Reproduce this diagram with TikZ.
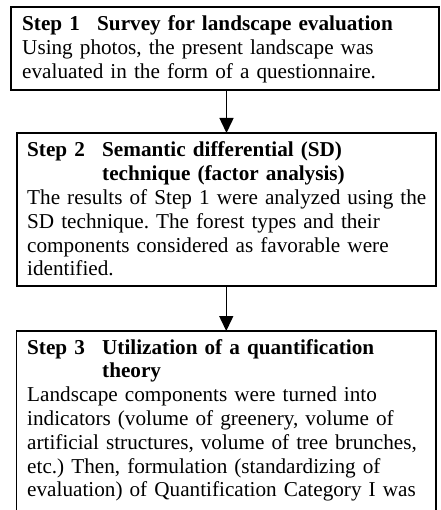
\documentclass[tikz,border=0pt]{standalone}
\usepackage{fontspec}
\setmainfont{Liberation Serif}
\usetikzlibrary{arrows.meta}
\frenchspacing
\newcommand\stephd[2]{\makebox[75pt][l]{\textbf{#1}}\textbf{#2}}
\newcommand\indnt[1]{\hspace*{75pt}\textbf{#1}}
\begin{document}
\begin{tikzpicture}[x=1pt,y=-1pt,
  box/.style={draw,line width=1.7pt,rectangle,anchor=north west,inner sep=0pt,outer sep=0pt},
  txt/.style={anchor=base west,inner sep=0pt,align=left,text width=420pt,
    font=\fontsize{21.2}{23.8}\selectfont},
  conn/.style={line width=1.5pt,-{Triangle[width=14pt,length=15pt]}}]
\useasboundingbox (0,0) rectangle (440,510);
\node[box,minimum width=428pt,minimum height=83pt] (b1) at (11,7) {};
\node[box,minimum width=419pt,minimum height=153pt] (b2) at (17,133) {};
\node[box,minimum width=419.5pt,minimum height=220pt] (b3) at (16.5,331) {};
\node[txt] (t1) at (22,31) {\stephd{Step 1}{Survey for landscape evaluation}\\
Using photos, the present landscape was\\
evaluated in the form of a questionnaire.};
\node[txt] (t2) at (27,157) {\stephd{Step 2}{Semantic differential (SD)}\\
\indnt{technique (factor analysis)}\\
The results of Step 1 were analyzed using the\\
SD technique. The forest types and their\\
components considered as favorable were\\
identified.};
\node[txt] (t3) at (27,354) {\stephd{Step 3}{Utilization of a quantification}\\
\indnt{theory}\\
Landscape components were turned into\\
indicators (volume of greenery, volume of\\
artificial structures, volume of tree brunches,\\
etc.) Then, formulation (standardizing of\\
evaluation) of Quantification Category I was};
\draw[conn] (b2.north |- b1.south) -- (b2.north);
\draw[conn] (b3.north |- b2.south) -- (b3.north);
\end{tikzpicture}
\end{document}
